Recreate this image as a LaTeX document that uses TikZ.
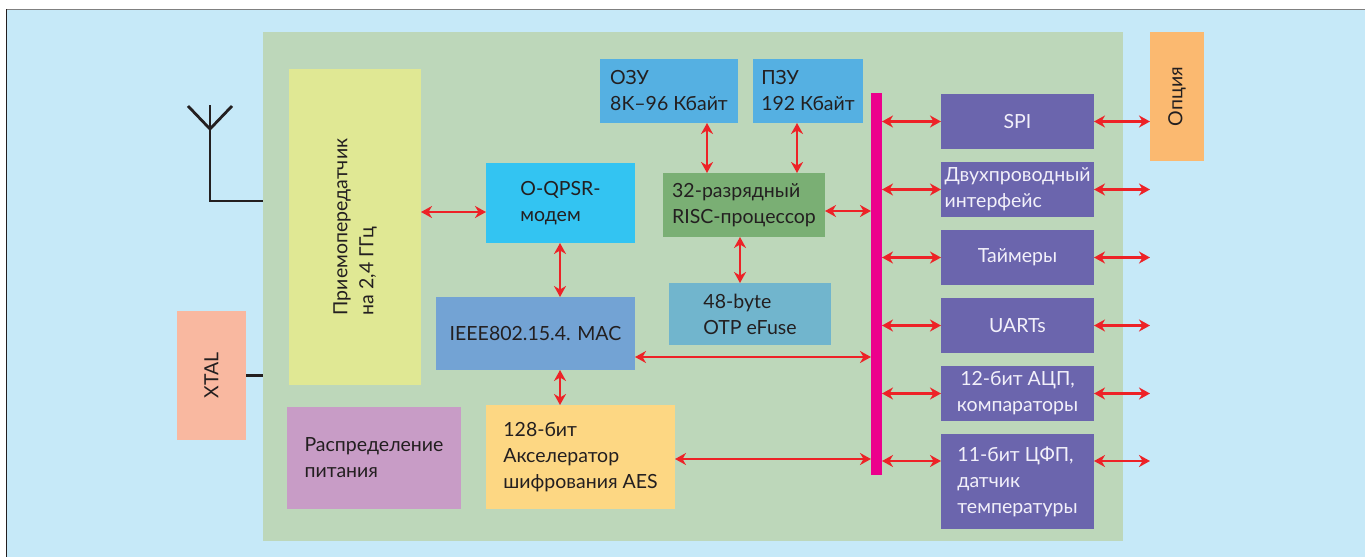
\documentclass[tikz,border=0pt]{standalone}
\usepackage{fontspec}
\setmainfont{Lato}
\usetikzlibrary{arrows.meta}
\definecolor{bgblue}{HTML}{C6E9F8}
\definecolor{chipgreen}{HTML}{BDD7BA}
\definecolor{trxc}{HTML}{E0E894}
\definecolor{xtalc}{HTML}{F9B8A0}
\definecolor{pwrc}{HTML}{C89CC6}
\definecolor{modemc}{HTML}{33C4F2}
\definecolor{memc}{HTML}{55B0E2}
\definecolor{riscc}{HTML}{7AAF74}
\definecolor{otpc}{HTML}{71B5CD}
\definecolor{macc}{HTML}{73A3D4}
\definecolor{aesc}{HTML}{FDD783}
\definecolor{busc}{HTML}{EC008C}
\definecolor{perc}{HTML}{6B65AD}
\definecolor{optc}{HTML}{FBB970}
\definecolor{arrred}{HTML}{ED2227}
\definecolor{txtdark}{HTML}{231F20}
\definecolor{txtlight}{HTML}{F2F0FA}
\begin{document}
\begin{tikzpicture}[x=1pt,y=-1pt,
  blk/.style={inner sep=0pt, outer sep=0pt, font=\fontsize{19.5}{26}\selectfont, text=txtdark, align=left},
  per/.style={blk, fill=perc, text=txtlight, minimum width=153pt},
  rtext/.style={inner sep=0pt, font=\fontsize{19.5}{26}\selectfont, text=txtdark, align=left, rotate=90},
  link/.style={draw=arrred, line width=2.8pt, {Stealth[length=11pt,width=12pt,inset=3.5pt]}-{Stealth[length=11pt,width=12pt,inset=3.5pt]}},
  wire/.style={draw=txtdark, line width=2.8pt}]
\useasboundingbox (0,0) rectangle (1365,557);
\fill[white] (0,0) rectangle (1365,557);
\fill[bgblue] (6,10) rectangle (1365,557);
\draw[draw=gray, line width=1.5pt] (6,9.5) -- (1365,9.5);
\draw[draw=txtdark, line width=1.5pt] (6.5,9) -- (6.5,557);

% chip
\node[blk, fill=chipgreen, minimum width=860pt, minimum height=509pt] (chip) at (693,286.5) {};

% blocks
\node[blk, fill=trxc, minimum width=132pt, minimum height=316pt] (trx) at (355,227) {};
\node[rtext] (trxt) at (trx.center) {Приемопередатчик\\на 2,4 ГГц};
\node[blk, fill=xtalc, minimum width=69pt, minimum height=129pt] (xtal) at (211.5,375.5) {};
\node[rtext] (xtalt) at (xtal.center) {XTAL};
\node[blk, fill=pwrc, minimum width=174pt, minimum height=102pt] (pwr) at (374,458) {Распределение\\питания};
\node[blk, fill=modemc, minimum width=149pt, minimum height=80pt] (modem) at (560.5,203) {O-QPSR-\\модем};
\node[blk, fill=memc, minimum width=138pt, minimum height=64pt] (ozu) at (669,91) {ОЗУ\\8K–96 Кбайт};
\node[blk, fill=memc, minimum width=110pt, minimum height=64pt] (pzu) at (808,91) {ПЗУ\\192 Кбайт};
\node[blk, fill=riscc, minimum width=162pt, minimum height=64pt] (risc) at (744,205) {32-разрядный\\RISC-процессор};
\node[blk, fill=otpc, minimum width=162pt, minimum height=62pt] (otp) at (750,314) {48-byte\\OTP eFuse};
\node[blk, fill=macc, minimum width=199pt, minimum height=73pt] (mac) at (535.5,333.5) {IEEE802.15.4. MAC};
\node[blk, fill=aesc, minimum width=189pt, minimum height=104pt] (aes) at (580.5,457) {128-бит\\Акселератор\\шифрования AES};
\node[blk, fill=busc, minimum width=11pt, minimum height=382pt] (bus) at (876.5,284) {};

\node[per, minimum height=55pt] (spi) at (1017.5,121.5) {SPI};
\node[per, minimum height=55pt] (two) at (1017.5,189.5) {Двухпроводный\\интерфейс};
\node[per, minimum height=55pt] (tim) at (1017.5,257.5) {Таймеры};
\node[per, minimum height=55pt] (uart) at (1017.5,325.5) {UARTs};
\node[per, minimum height=55pt, align=center] (adc) at (1017.5,393.5) {12-бит АЦП,\\компараторы};
\node[per, minimum height=95pt] (dac) at (1017.5,481.5) {11-бит ЦФП,\\датчик\\температуры};

\node[blk, fill=optc, minimum width=54pt, minimum height=129pt] (opt) at (1177,96.5) {};
\node[rtext] (optt) at (opt.center) {Опция};

% antenna
\coordinate (antTop) at (210,105);
\coordinate (antV) at (210,129);
\coordinate (antL) at (188,106);
\coordinate (antR) at (232,106);
\coordinate (antC) at (210,201);
\draw[wire] (antL) -- (antV) -- (antR);
\draw[wire] (antTop) -- (antC) -- (antC -| chip.west);
\draw[wire] (xtal.east) -- (xtal.east -| chip.west);

% internal links
\coordinate (y1) at (0,212);
\draw[link] (trx.east |- y1) -- (modem.west |- y1);
\coordinate (x1) at (707,0);
\draw[link] (ozu.south -| x1) -- (risc.north -| x1);
\coordinate (x2) at (797,0);
\draw[link] (pzu.south -| x2) -- (risc.north -| x2);
\coordinate (y2) at (0,211);
\draw[link] (risc.east |- y2) -- (bus.west |- y2);
\coordinate (x3) at (740,0);
\draw[link] (risc.south -| x3) -- (otp.north -| x3);
\coordinate (x4) at (560,0);
\draw[link] (modem.south -| x4) -- (mac.north -| x4);
\draw[link] (mac.south -| x4) -- (aes.north -| x4);
\coordinate (y3) at (0,357);
\draw[link] (mac.east |- y3) -- (bus.west |- y3);
\coordinate (y4) at (0,459);
\draw[link] (aes.east |- y4) -- (bus.west |- y4);

% peripheral links
\coordinate (rx) at (1150,0);
\foreach \n in {spi,two,tim,uart,adc}{
  \draw[link] (bus.east |- \n.west) -- (\n.west);
}
\coordinate (y5) at (0,461);
\draw[link] (bus.east |- y5) -- (dac.west |- y5);
\draw[link] (spi.east) -- (opt.west |- spi.east);
\foreach \n in {two,tim,uart,adc}{
  \draw[link] (\n.east) -- (\n.east -| rx);
}
\draw[link] (dac.east |- y5) -- (rx |- y5);
\end{tikzpicture}
\end{document}
